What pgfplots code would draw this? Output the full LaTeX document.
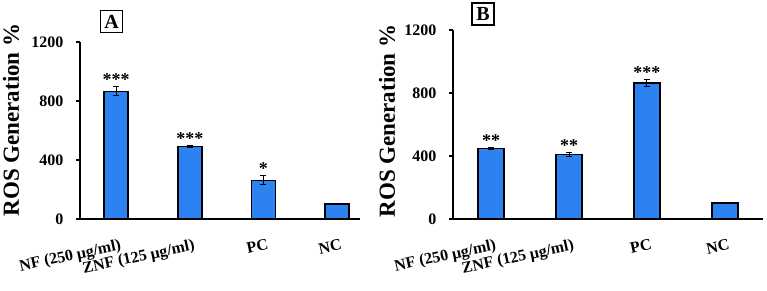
\documentclass[border=0pt]{standalone}
\usepackage{fontspec}
\setmainfont{Liberation Serif}
\usepackage{pgfplots}
\pgfplotsset{compat=1.18}
\definecolor{barblue}{RGB}{45,130,242}
\pgfplotsset{rosstyle/.style={
  scale only axis,
  axis lines=left,
  axis line style={-, line width=1.6pt},
  ymin=0, ymax=1200, ytick={0,400,800,1200},
  xtick={0,1,2,3},
  xticklabels={NF (250 μg/ml), ZNF (125 μg/ml), PC, NC},
  x tick style={draw=none},
  y tick style={line width=1.2pt, black},
  tick align=outside, major tick length=4pt,
  /pgf/number format/assume math mode=true,
  /pgf/number format/1000 sep={},
  yticklabel style={font=\fontsize{16}{16}\selectfont\bfseries, xshift=-9pt},
  xticklabel style={font=\fontsize{16}{16}\selectfont\bfseries, rotate=12, anchor=north east, inner sep=0pt, yshift=-16pt},
  clip=false,
}}
\begin{document}
\begin{tikzpicture}[x=1pt,y=1pt]
\path[use as bounding box] (0,0) rectangle (767,290);
% Panel A
\begin{axis}[rosstyle, at={(80pt,71pt)}, anchor=south west,
  width=280pt, height=177pt, xmin=-0.49, xmax=3.31]
\addplot[ybar, bar width=24pt, fill=barblue, draw=black, line width=1.6pt,
  error bars/.cd, y dir=both, y explicit,
  error bar style={line width=1pt, black},
  error mark options={rotate=90, mark size=3pt, line width=1pt, black}]
  coordinates {(0,865) +- (0,30) (1,492) +- (0,4) (2,262) +- (0,30) (3,100) +- (0,3)};
\addplot[draw=none, nodes near coords, point meta=explicit symbolic,
  nodes near coords style={anchor=south, inner sep=1pt, font=\fontsize{18}{18}\selectfont\bfseries}]
  coordinates {(0,895) [***] (1,496) [***] (2,292) [*]};
\end{axis}
\node[draw, line width=1.2pt, minimum size=22pt, inner sep=0pt, font=\fontsize{20}{20}\selectfont\bfseries] at (111.5,268.5) {A};
\node[rotate=90, font=\fontsize{23}{23}\selectfont\bfseries] at (11,170) {ROS Generation \%};
% Panel B
\begin{axis}[rosstyle, at={(453pt,71pt)}, anchor=south west,
  width=310pt, height=189pt, xmin=-0.49, xmax=3.49]
\addplot[ybar, bar width=26pt, fill=barblue, draw=black, line width=1.6pt,
  error bars/.cd, y dir=both, y explicit,
  error bar style={line width=1pt, black},
  error mark options={rotate=90, mark size=3pt, line width=1pt, black}]
  coordinates {(0,447) +- (0,4) (1,410) +- (0,10) (2,865) +- (0,22) (3,100) +- (0,3)};
\addplot[draw=none, nodes near coords, point meta=explicit symbolic,
  nodes near coords style={anchor=south, inner sep=1pt, font=\fontsize{18}{18}\selectfont\bfseries}]
  coordinates {(0,451) [**] (1,420) [**] (2,887) [***]};
\end{axis}
\node[draw, line width=1.2pt, minimum size=22pt, inner sep=0pt, font=\fontsize{20}{20}\selectfont\bfseries] at (483,276) {B};
\node[rotate=90, font=\fontsize{23}{23}\selectfont\bfseries] at (387,169) {ROS Generation \%};
\end{tikzpicture}
\end{document}
